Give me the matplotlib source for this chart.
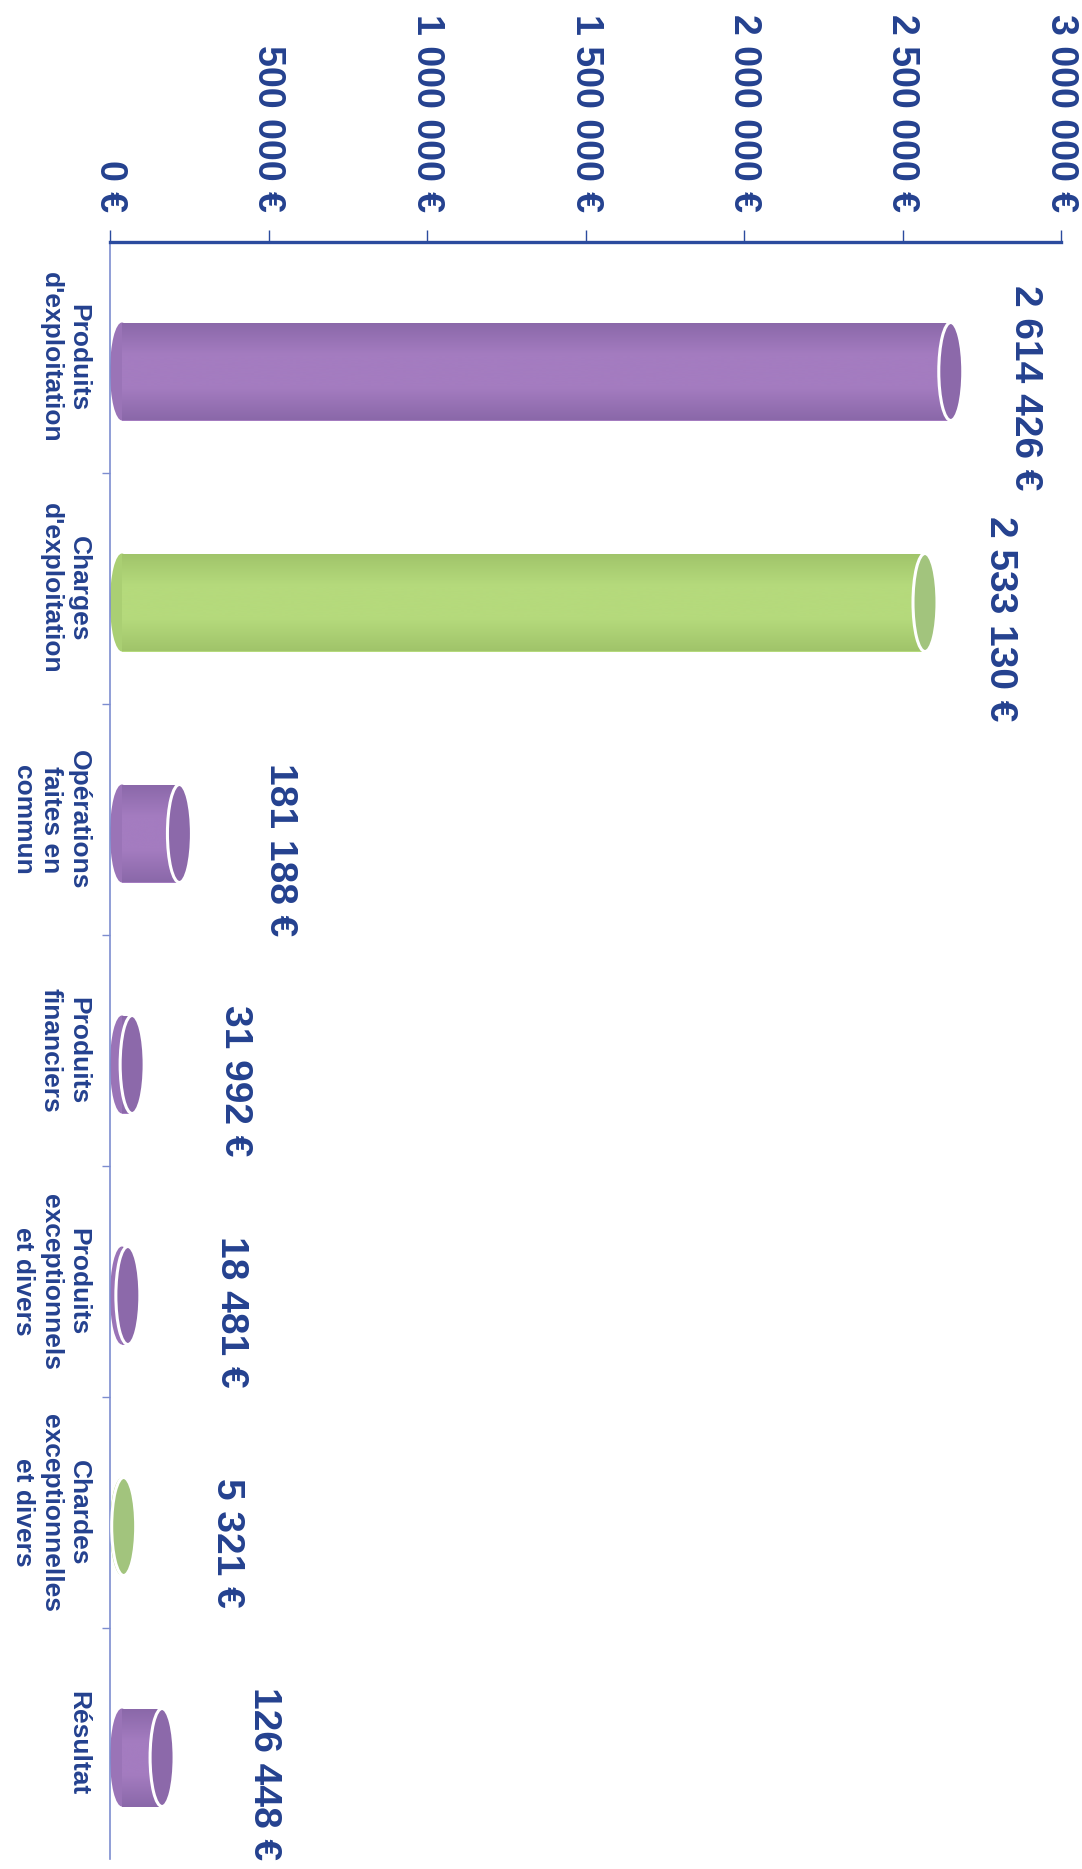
"""Compte de résultat : barres cylindriques, graphique tourné de 90°."""

import numpy as np
import matplotlib
matplotlib.use("Agg")
import matplotlib.pyplot as plt
from matplotlib.patches import Ellipse
from matplotlib.colors import LinearSegmentedColormap

CATEGORIES = [
    "Produits\nd'exploitation",
    "Charges\nd'exploitation",
    "Opérations\nfaites en\ncommun",
    "Produits\nfinanciers",
    "Produits\nexceptionnels\net divers",
    "Chardes\nexceptionnelles\net divers",
    "Résultat",
]
VALUES = [2614426, 2533130, 181188, 31992, 18481, 5321, 126448]
SERIES = ["produit", "charge", "produit", "produit", "produit", "charge", "produit"]
TICKS = [0, 500000, 1000000, 1500000, 2000000, 2500000, 3000000]

PALETTE = {
    "produit": {"edge": "#8a68a9", "mid": "#a47cc0", "left": "#9a74b7", "cap": "#8c69aa"},
    "charge": {"edge": "#a0c46a", "mid": "#b5da7c", "left": "#aacf73", "cap": "#a2c47d"},
}
TXT = "#24418f"
AXIS = "#2b4b9e"
LEFT = "#7d8dd0"

W, H = 1082, 1869


def euro(v):
    return f"{v:,}".replace(",", " ") + " €"


def main():
    plt.rcParams["font.family"] = ["Liberation Sans", "DejaVu Sans"]
    fig = plt.figure(figsize=(W / 100, H / 100), dpi=100)
    fig.patch.set_facecolor("white")
    ax = fig.add_axes([110 / W, 10 / H, 951 / W, 1617 / H])
    ax.set_facecolor("none")

    px = 3e6 / 951          # unités de données par pixel
    shift = 12 * px         # décalage 3D
    cap_w = 24 * px
    bar_h = 98 / 231
    ypos = np.arange(len(VALUES)) + 14 / 231

    for i, (v, s) in enumerate(zip(VALUES, SERIES)):
        pal = PALETTE[s]
        cmap = LinearSegmentedColormap.from_list(
            s, [pal["edge"], pal["mid"], pal["mid"], pal["edge"]])
        rect = ax.barh(ypos[i], v, left=shift, height=bar_h,
                       color=pal["mid"], linewidth=0, zorder=2)[0]
        ax.add_patch(Ellipse((shift, ypos[i]), cap_w, bar_h,
                             facecolor=pal["left"], lw=0, zorder=1.9))
        grad = np.linspace(0, 1, 256).reshape(-1, 1)
        im = ax.imshow(grad, cmap=cmap, aspect="auto", zorder=2.1,
                       interpolation="bicubic",
                       extent=(shift, shift + v,
                               ypos[i] + bar_h / 2, ypos[i] - bar_h / 2))
        im.set_clip_path(rect)
        ax.add_patch(Ellipse((shift + v, ypos[i]), cap_w, bar_h,
                             facecolor=pal["cap"], edgecolor="white",
                             lw=2.2, zorder=3))
        ax.text(v * 0.965 + 363000, i + 0.13, euro(v), rotation=270,
                ha="center", va="center", fontsize=28, fontweight="bold",
                color=TXT, zorder=4)

    ax.set_xlim(0, 3e6)
    ax.set_ylim(6.5, -0.5)

    ax.xaxis.tick_top()
    ax.set_xticks(TICKS)
    ax.set_xticklabels([euro(t) for t in TICKS], rotation=270, fontsize=27,
                       fontweight="bold", color=TXT)
    ax.tick_params(axis="x", direction="out", length=8.6, width=1,
                   color=AXIS, pad=13)

    ax.set_yticks(range(len(CATEGORIES)))
    ax.set_yticklabels(CATEGORIES, rotation=270, ha="right", va="center",
                       multialignment="center", fontsize=19,
                       fontweight="bold", color=TXT)
    ax.tick_params(axis="y", which="major", length=0, pad=14)
    ax.set_yticks(np.arange(0.5, 6, 1), minor=True)
    ax.tick_params(axis="y", which="minor", length=6, width=1, color=LEFT,
                   direction="out")

    ax.spines["right"].set_visible(False)
    ax.spines["bottom"].set_visible(False)
    ax.spines["top"].set_color(AXIS)
    ax.spines["top"].set_linewidth(2.4)
    ax.spines["left"].set_color(LEFT)
    ax.spines["left"].set_linewidth(1.2)

    fig.savefig("out.png", dpi=100)
    plt.close(fig)


if __name__ == "__main__":
    main()
